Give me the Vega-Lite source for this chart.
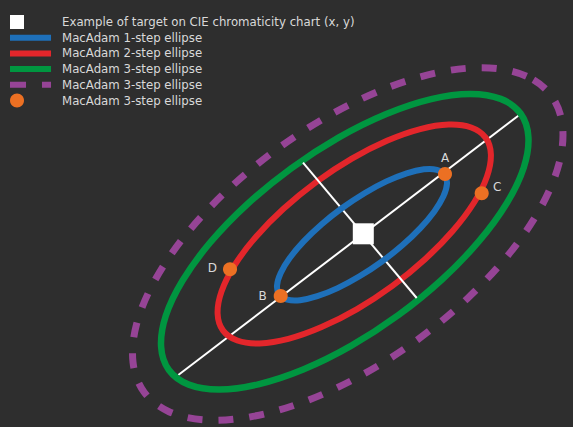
{
  "$schema": "https://vega.github.io/schema/vega-lite/v6.json",
  "width": 573,
  "height": 427,
  "autosize": {"type": "none"},
  "padding": 0,
  "background": "#2e2e2e",
  "config": {"view": {"stroke": null}},
  "resolve": {"legend": {"color": "independent", "shape": "independent"}},
  "datasets": {
    "axes": [
      {"name": "major", "x": 178.3, "y": 52, "x2": 518.3, "y2": 311.3},
      {"name": "minor", "x": 303, "y": 264.3, "x2": 416.7, "y2": 129}
    ],
    "ellipses": [
      {"k": "e1", "t": 0, "x": 444.7, "y": 252.3},
      {"k": "e1", "t": 15, "x": 436.9, "y": 257.2},
      {"k": "e1", "t": 30, "x": 423.9, "y": 257.7},
      {"k": "e1", "t": 45, "x": 406.7, "y": 253.7},
      {"k": "e1", "t": 60, "x": 386.4, "y": 245.6},
      {"k": "e1", "t": 75, "x": 364.5, "y": 233.8},
      {"k": "e1", "t": 90, "x": 342.5, "y": 219.2},
      {"k": "e1", "t": 105, "x": 321.7, "y": 202.8},
      {"k": "e1", "t": 120, "x": 303.7, "y": 185.6},
      {"k": "e1", "t": 135, "x": 289.7, "y": 168.9},
      {"k": "e1", "t": 150, "x": 280.6, "y": 153.8},
      {"k": "e1", "t": 165, "x": 277.0, "y": 141.3},
      {"k": "e1", "t": 180, "x": 279.3, "y": 132.2},
      {"k": "e1", "t": 195, "x": 287.2, "y": 127.3},
      {"k": "e1", "t": 210, "x": 300.1, "y": 126.8},
      {"k": "e1", "t": 225, "x": 317.3, "y": 130.8},
      {"k": "e1", "t": 240, "x": 337.6, "y": 138.9},
      {"k": "e1", "t": 255, "x": 359.5, "y": 150.7},
      {"k": "e1", "t": 270, "x": 381.6, "y": 165.3},
      {"k": "e1", "t": 285, "x": 402.3, "y": 181.7},
      {"k": "e1", "t": 300, "x": 420.3, "y": 198.9},
      {"k": "e1", "t": 315, "x": 434.3, "y": 215.6},
      {"k": "e1", "t": 330, "x": 443.4, "y": 230.7},
      {"k": "e1", "t": 345, "x": 447.0, "y": 243.2},
      {"k": "e2", "t": 0, "x": 485.6, "y": 289.4},
      {"k": "e2", "t": 15, "x": 471.2, "y": 299.5},
      {"k": "e2", "t": 30, "x": 448.9, "y": 302.4},
      {"k": "e2", "t": 45, "x": 420.2, "y": 297.9},
      {"k": "e2", "t": 60, "x": 386.9, "y": 286.2},
      {"k": "e2", "t": 75, "x": 351.4, "y": 268.1},
      {"k": "e2", "t": 90, "x": 316.1, "y": 244.9},
      {"k": "e2", "t": 105, "x": 283.5, "y": 218.2},
      {"k": "e2", "t": 120, "x": 255.6, "y": 189.8},
      {"k": "e2", "t": 135, "x": 234.5, "y": 161.6},
      {"k": "e2", "t": 150, "x": 221.5, "y": 135.5},
      {"k": "e2", "t": 165, "x": 217.6, "y": 113.3},
      {"k": "e2", "t": 180, "x": 222.9, "y": 96.6},
      {"k": "e2", "t": 195, "x": 237.3, "y": 86.5},
      {"k": "e2", "t": 210, "x": 259.6, "y": 83.6},
      {"k": "e2", "t": 225, "x": 288.4, "y": 88.1},
      {"k": "e2", "t": 240, "x": 321.6, "y": 99.9},
      {"k": "e2", "t": 255, "x": 357.1, "y": 117.9},
      {"k": "e2", "t": 270, "x": 392.4, "y": 141.1},
      {"k": "e2", "t": 285, "x": 425.0, "y": 167.8},
      {"k": "e2", "t": 300, "x": 452.9, "y": 196.3},
      {"k": "e2", "t": 315, "x": 474.1, "y": 224.5},
      {"k": "e2", "t": 330, "x": 487.0, "y": 250.5},
      {"k": "e2", "t": 345, "x": 490.9, "y": 272.7},
      {"k": "e3", "t": 0, "x": 520.6, "y": 313.5},
      {"k": "e3", "t": 15, "x": 500.7, "y": 328.1},
      {"k": "e3", "t": 30, "x": 470.2, "y": 333.0},
      {"k": "e3", "t": 45, "x": 431.2, "y": 327.9},
      {"k": "e3", "t": 60, "x": 386.3, "y": 313.0},
      {"k": "e3", "t": 75, "x": 338.5, "y": 289.4},
      {"k": "e3", "t": 90, "x": 291.2, "y": 258.7},
      {"k": "e3", "t": 105, "x": 247.5, "y": 223.0},
      {"k": "e3", "t": 120, "x": 210.5, "y": 184.8},
      {"k": "e3", "t": 135, "x": 182.6, "y": 146.5},
      {"k": "e3", "t": 150, "x": 165.7, "y": 111.0},
      {"k": "e3", "t": 165, "x": 161.1, "y": 80.4},
      {"k": "e3", "t": 180, "x": 168.9, "y": 57.0},
      {"k": "e3", "t": 195, "x": 188.8, "y": 42.4},
      {"k": "e3", "t": 210, "x": 219.3, "y": 37.5},
      {"k": "e3", "t": 225, "x": 258.3, "y": 42.7},
      {"k": "e3", "t": 240, "x": 303.2, "y": 57.5},
      {"k": "e3", "t": 255, "x": 351.0, "y": 81.1},
      {"k": "e3", "t": 270, "x": 398.3, "y": 111.8},
      {"k": "e3", "t": 285, "x": 442.0, "y": 147.5},
      {"k": "e3", "t": 300, "x": 479.0, "y": 185.8},
      {"k": "e3", "t": 315, "x": 506.9, "y": 224.0},
      {"k": "e3", "t": 330, "x": 523.8, "y": 259.6},
      {"k": "e3", "t": 345, "x": 528.4, "y": 290.1},
      {"k": "e3d", "t": 0, "x": 551.5, "y": 331.0},
      {"k": "e3d", "t": 15, "x": 526.5, "y": 350.8},
      {"k": "e3d", "t": 30, "x": 489.4, "y": 359.1},
      {"k": "e3d", "t": 45, "x": 442.6, "y": 355.4},
      {"k": "e3d", "t": 60, "x": 389.3, "y": 340.0},
      {"k": "e3d", "t": 75, "x": 333.2, "y": 313.8},
      {"k": "e3d", "t": 90, "x": 278.2, "y": 278.8},
      {"k": "e3d", "t": 105, "x": 227.8, "y": 237.2},
      {"k": "e3d", "t": 120, "x": 185.6, "y": 192.0},
      {"k": "e3d", "t": 135, "x": 154.5, "y": 146.1},
      {"k": "e3d", "t": 150, "x": 136.5, "y": 102.7},
      {"k": "e3d", "t": 165, "x": 133.0, "y": 64.8},
      {"k": "e3d", "t": 180, "x": 144.0, "y": 35.0},
      {"k": "e3d", "t": 195, "x": 169.0, "y": 15.3},
      {"k": "e3d", "t": 210, "x": 206.1, "y": 6.9},
      {"k": "e3d", "t": 225, "x": 252.9, "y": 10.6},
      {"k": "e3d", "t": 240, "x": 306.2, "y": 26.0},
      {"k": "e3d", "t": 255, "x": 362.3, "y": 52.2},
      {"k": "e3d", "t": 270, "x": 417.4, "y": 87.2},
      {"k": "e3d", "t": 285, "x": 467.7, "y": 128.8},
      {"k": "e3d", "t": 300, "x": 509.9, "y": 174.1},
      {"k": "e3d", "t": 315, "x": 541.0, "y": 219.9},
      {"k": "e3d", "t": 330, "x": 559.0, "y": 263.3},
      {"k": "e3d", "t": 345, "x": 562.5, "y": 301.2}
    ],
    "markers": [
      {"k": "target", "x": 363.3, "y": 193.2},
      {"k": "pt", "label": "A", "x": 445, "y": 253, "lx": 445, "ly": 269.3},
      {"k": "pt", "label": "B", "x": 280.7, "y": 131, "lx": 262.7, "ly": 131.3},
      {"k": "pt", "label": "C", "x": 481.7, "y": 233.7, "lx": 497.3, "ly": 240.3},
      {"k": "pt", "label": "D", "x": 230, "y": 157.7, "lx": 212.3, "ly": 159.3}
    ]
  },
  "encoding": {
    "x": {"field": "x", "type": "quantitative", "scale": {"domain": [0, 573], "nice": false, "zero": false}, "axis": null},
    "y": {"field": "y", "type": "quantitative", "scale": {"domain": [0, 427], "nice": false, "zero": false}, "axis": null}
  },
  "layer": [
    {
      "data": {"name": "axes"},
      "transform": [{"filter": "datum.name == 'major'"}],
      "mark": {"type": "rule", "color": "#ffffff", "strokeWidth": 2},
      "encoding": {"x2": {"field": "x2"}, "y2": {"field": "y2"}}
    },
    {
      "data": {"name": "ellipses"},
      "transform": [{"filter": "datum.k == 'e3d'"}],
      "mark": {"type": "line", "interpolate": "cardinal-closed", "strokeWidth": 7, "strokeDash": [15, 16]},
      "encoding": {
        "color": {"field": "k", "type": "nominal", "legend": null,
          "scale": {"domain": ["target", "e1", "e2", "e3", "e3d", "pt"], "range": ["#ffffff", "#1e70ba", "#e3262b", "#009640", "#964496", "#ec7023"]}},
        "order": {"field": "t", "type": "quantitative"}
      }
    },
    {
      "data": {"name": "ellipses"},
      "transform": [{"filter": "datum.k == 'e3'"}],
      "mark": {"type": "line", "interpolate": "cardinal-closed", "strokeWidth": 6.5},
      "encoding": {
        "color": {"field": "k", "type": "nominal", "legend": null},
        "order": {"field": "t", "type": "quantitative"}
      }
    },
    {
      "data": {"name": "ellipses"},
      "transform": [{"filter": "datum.k == 'e2'"}],
      "mark": {"type": "line", "interpolate": "cardinal-closed", "strokeWidth": 6},
      "encoding": {
        "color": {"field": "k", "type": "nominal", "legend": null},
        "order": {"field": "t", "type": "quantitative"}
      }
    },
    {
      "data": {"name": "axes"},
      "transform": [{"filter": "datum.name == 'minor'"}],
      "mark": {"type": "rule", "color": "#ffffff", "strokeWidth": 2},
      "encoding": {"x2": {"field": "x2"}, "y2": {"field": "y2"}}
    },
    {
      "data": {"name": "ellipses"},
      "transform": [{"filter": "datum.k == 'e1'"}],
      "mark": {"type": "line", "interpolate": "cardinal-closed", "strokeWidth": 6},
      "encoding": {
        "color": {"field": "k", "type": "nominal", "legend": null},
        "order": {"field": "t", "type": "quantitative"}
      }
    },
    {
      "data": {"name": "markers"},
      "transform": [{"filter": "datum.k == 'target'"}],
      "mark": {"type": "point", "filled": true, "size": 441, "opacity": 1},
      "encoding": {
        "color": {"field": "k", "type": "nominal", "legend": null},
        "shape": {"field": "k", "type": "nominal", "legend": null,
          "scale": {"domain": ["target", "e1", "e2", "e3", "e3d", "pt"],
            "range": ["M-1,-1H1V1H-1Z", "M-1,-0.43H4.86V0.43H-1Z", "M-1,-0.43H4.86V0.43H-1Z", "M-1,-0.43H4.86V0.43H-1Z", "M-1,-0.43H1.29V0.43H-1ZM3.57,-0.43H4.86V0.43H3.57Z", "M-1,0A1,1 0 1,0 1,0A1,1 0 1,0 -1,0Z"]}}
      }
    },
    {
      "data": {"name": "markers"},
      "transform": [{"filter": "datum.k == 'pt'"}],
      "mark": {"type": "point", "filled": true, "size": 196, "opacity": 1},
      "encoding": {
        "color": {"field": "k", "type": "nominal",
          "legend": {
            "orient": "none", "legendX": 10, "legendY": 15, "title": null, "padding": 0,
            "symbolSize": 196, "symbolStrokeWidth": 0, "symbolOpacity": 1, "labelOffset": 38, "rowPadding": 1.7,
            "labelFont": "DejaVu Sans", "labelFontSize": 11.75, "labelColor": "#d9d9d9", "labelLimit": 400,
            "labelExpr": "datum.value == 'target' ? 'Example of target on CIE chromaticity chart (x, y)' : datum.value == 'e1' ? 'MacAdam 1-step ellipse' : datum.value == 'e2' ? 'MacAdam 2-step ellipse' : 'MacAdam 3-step ellipse'"
          }
        },
        "shape": {"field": "k", "type": "nominal",
          "legend": {
            "orient": "none", "legendX": 10, "legendY": 15, "title": null, "padding": 0,
            "symbolSize": 196, "symbolStrokeWidth": 0, "symbolOpacity": 1, "labelOffset": 38, "rowPadding": 1.7,
            "labelFont": "DejaVu Sans", "labelFontSize": 11.75, "labelColor": "#d9d9d9", "labelLimit": 400,
            "labelExpr": "datum.value == 'target' ? 'Example of target on CIE chromaticity chart (x, y)' : datum.value == 'e1' ? 'MacAdam 1-step ellipse' : datum.value == 'e2' ? 'MacAdam 2-step ellipse' : 'MacAdam 3-step ellipse'"
          }
        }
      }
    },
    {
      "data": {"name": "markers"},
      "transform": [{"filter": "datum.k == 'pt'"}],
      "mark": {"type": "text", "font": "DejaVu Sans", "fontSize": 12, "color": "#d9d9d9"},
      "encoding": {
        "x": {"field": "lx", "type": "quantitative"},
        "y": {"field": "ly", "type": "quantitative"},
        "text": {"field": "label"}
      }
    }
  ]
}
